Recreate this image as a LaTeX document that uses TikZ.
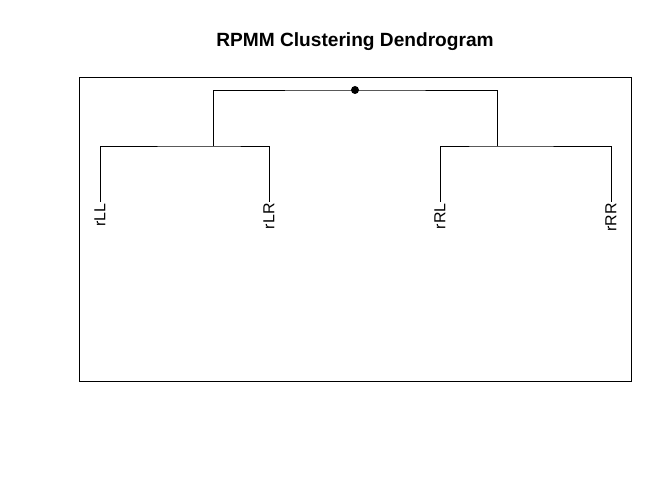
\documentclass[tikz,border=0pt]{standalone}
\usepackage{fontspec}
\setmainfont{Liberation Sans}
\usetikzlibrary{calc}

\begin{document}
\begin{tikzpicture}[x=1bp,y=1bp,line width=0.8bp,
    leaflabel/.style={rotate=90,anchor=east,inner sep=1bp,font=\fontsize{16}{18}\selectfont},
    dot/.style={circle,fill,inner sep=0pt,minimum size=8bp}]
                \useasboundingbox (0,0) rectangle (672,480);
                \node[font=\fontsize{19.2}{22}\selectfont\bfseries] (title) at (355,438) {RPMM Clustering Dendrogram};
                \draw (79,99) rectangle (631,403);
                \coordinate (nL) at (213,334);
                \coordinate (nR) at (497,334);
                \coordinate (LL) at (100,278);
                \coordinate (LR) at (269,278);
                \coordinate (RL) at (440,278);
                \coordinate (RR) at (611,278);
                \node[leaflabel] (lLL) at (LL) {rLL};
                \node[leaflabel] (lLR) at (LR) {rLR};
                \node[leaflabel] (lRL) at (RL) {rRL};
                \node[leaflabel] (lRR) at (RR) {rRR};
                \draw (nL) |- (355,390) -| (nR);
                \draw (LL) |- (nL) -| (LR);
                \draw (RL) |- (nR) -| (RR);
                \node[dot] (root) at (355,390) {};
            \end{tikzpicture}
\end{document}
